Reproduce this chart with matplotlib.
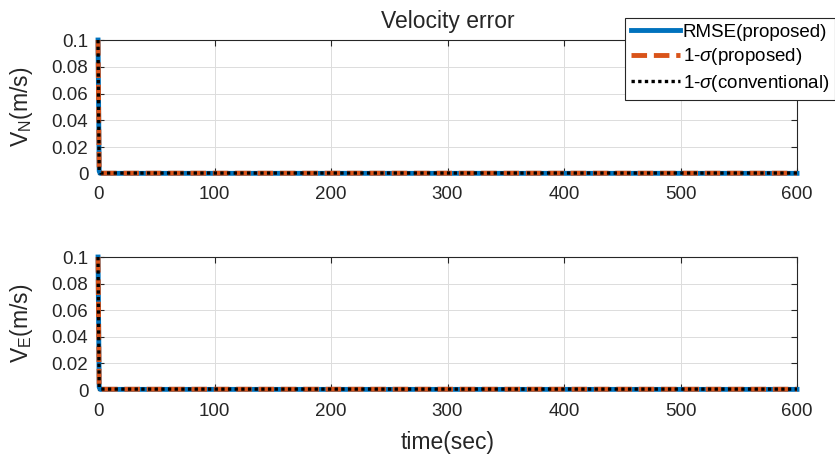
import matplotlib
matplotlib.use("Agg")
import matplotlib.pyplot as plt
from matplotlib.lines import Line2D

plt.rcParams["font.family"] = ["Liberation Sans", "DejaVu Sans"]
plt.rcParams["mathtext.fontset"] = "custom"
plt.rcParams["mathtext.rm"] = "Liberation Sans"
plt.rcParams["mathtext.it"] = "Liberation Sans:italic"
plt.rcParams["mathtext.sf"] = "Liberation Sans"

# time (sec) and error curves
time_s = [0, 1, 2, 600]
vn_rmse = [0.1, 0.002, 0.0005, 0.0005]
vn_sig_prop = [0.1, 0.002, 0.0006, 0.0006]
vn_sig_conv = [0.1, 0.002, 0.0007, 0.0007]
ve_rmse = [0.1, 0.002, 0.0005, 0.0005]
ve_sig_prop = [0.1, 0.002, 0.0006, 0.0006]
ve_sig_conv = [0.1, 0.002, 0.0007, 0.0007]

x_ticks = [0, 100, 200, 300, 400, 500, 600]
y_ticks = [0, 0.02, 0.04, 0.06, 0.08, 0.1]
y_ticklabels = ["0", "0.02", "0.04", "0.06", "0.08", "0.1"]
labels = ["RMSE(proposed)", r"1-$\sigma$(proposed)", r"1-$\sigma$(conventional)"]

BLUE = "#0072BD"
ORANGE = "#D95319"
TXT = "#262626"
DASH = (0, (3.2, 1.4))
DOT = (0, (1, 1))

fig = plt.figure(figsize=(8.35, 4.62), dpi=100)
ax1 = fig.add_axes([0.1174, 0.6234, 0.8371, 0.29])
ax2 = fig.add_axes([0.1174, 0.1558, 0.8371, 0.2879])


def style(ax, ylabel):
    ax.set_xlim(0, 600)
    ax.set_ylim(0, 0.1)
    ax.set_xticks(x_ticks)
    ax.set_yticks(y_ticks)
    ax.set_yticklabels(y_ticklabels)
    ax.tick_params(direction="in", labelsize=13.5, colors=TXT, length=4,
                   top=True, right=True)
    ax.tick_params(axis="x", pad=9)
    ax.tick_params(axis="y", pad=7)
    ax.grid(True, color="#dcdcdc", linewidth=0.7)
    ax.set_axisbelow(True)
    for sp in ax.spines.values():
        sp.set_color(TXT)
        sp.set_linewidth(0.8)
    ax.set_ylabel(ylabel, fontsize=16.5, color=TXT, labelpad=12)


for ax, r, sp, sc, yl in [
    (ax1, vn_rmse, vn_sig_prop, vn_sig_conv, r"V$_\mathrm{N}$(m/s)"),
    (ax2, ve_rmse, ve_sig_prop, ve_sig_conv, r"V$_\mathrm{E}$(m/s)"),
]:
    ax.plot(time_s, r, color=BLUE, lw=3.5, clip_on=False, zorder=3)
    ax.plot(time_s, sp, color=ORANGE, lw=3.5, ls=DASH, clip_on=False, zorder=4)
    ax.plot(time_s, sc, color="black", lw=2.4, ls=DOT, clip_on=False, zorder=5)
    style(ax, yl)

ax1.set_title("Velocity error", fontsize=16.5, color=TXT, pad=9)
ax2.set_xlabel("time(sec)", fontsize=16.5, color=TXT, labelpad=8)

handles = [
    Line2D([], [], color=BLUE, lw=3.5),
    Line2D([], [], color=ORANGE, lw=3.5, ls=DASH),
    Line2D([], [], color="black", lw=2.4, ls=DOT),
]
leg = fig.legend(handles, labels, loc="upper left", bbox_to_anchor=(0.749, 0.961),
                 fontsize=13.5, frameon=True, fancybox=False, framealpha=1,
                 edgecolor=TXT, handlelength=2.6, handletextpad=0.15,
                 borderpad=0.3, labelspacing=0.3, borderaxespad=0)
leg.get_frame().set_linewidth(0.8)

fig.savefig("out.png", dpi=100, facecolor="white")
